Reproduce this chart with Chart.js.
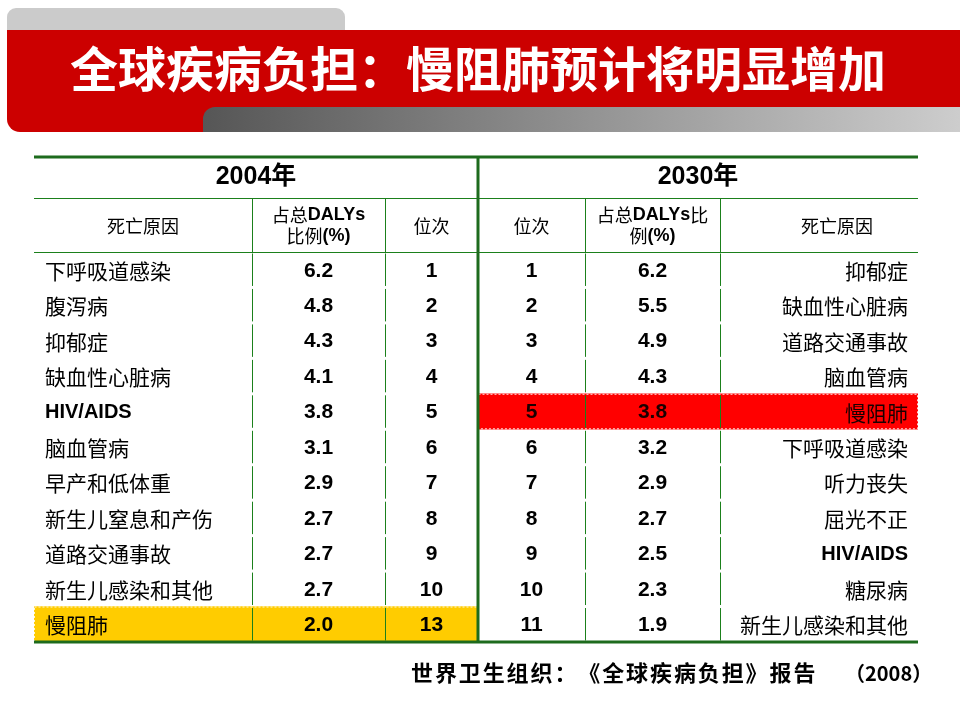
<!DOCTYPE html>
<html lang="zh">
<head>
<meta charset="utf-8">
<title>全球疾病负担：慢阻肺预计将明显增加</title>
<script src="https://cdn.jsdelivr.net/npm/chart.js@4.4.1/dist/chart.umd.min.js"></script>
<style>
  html, body { margin: 0; padding: 0; background: #fff; }
</style>
</head>
<body>
<canvas id="burden" width="960" height="720"></canvas>
<script>
/* ================= DATA ================= */

const titleText = "全球疾病负担：慢阻肺预计将明显增加";
const sourceText = "世界卫生组织：《全球疾病负担》报告";
const sourceYear = "（2008）";
const years = ["2004年", "2030年"];

const causes2004 = ["下呼吸道感染", "腹泻病", "抑郁症", "缺血性心脏病", "HIV/AIDS", "脑血管病",
  "早产和低体重", "新生儿窒息和产伤", "道路交通事故", "新生儿感染和其他", "慢阻肺"];
const share2004 = [6.2, 4.8, 4.3, 4.1, 3.8, 3.1, 2.9, 2.7, 2.7, 2.7, 2.0];
const rank2004 = [1, 2, 3, 4, 5, 6, 7, 8, 9, 10, 13];

const rank2030 = [1, 2, 3, 4, 5, 6, 7, 8, 9, 10, 11];
const share2030 = [6.2, 5.5, 4.9, 4.3, 3.8, 3.2, 2.9, 2.7, 2.5, 2.3, 1.9];
const causes2030 = ["抑郁症", "缺血性心脏病", "道路交通事故", "脑血管病", "慢阻肺", "下呼吸道感染",
  "听力丧失", "屈光不正", "HIV/AIDS", "糖尿病", "新生儿感染和其他"];

const focusCause = "慢阻肺";

/* ================= LAYOUT ================= */

// column edges in table units (table is 884 wide)
const colEdges = [0, 218, 351, 444, 551, 686, 884];
const headRows = [41, 54];

const GREEN_DARK = "#1d6b1d";
const GREEN = "#1b801b";
const CJK = '"Noto Sans CJK SC", "Noto Sans CJK JP", sans-serif';
const LATIN = '"Liberation Sans", Arial, ' + CJK;

function isLatin(s) {
  return /^[\x00-\x7f]+$/.test(s);
}

// draw mixed runs of text centred on cx
function drawRuns(ctx, runs, cx, cy) {
  let total = 0;
  runs.forEach(r => { ctx.font = r[1]; total += ctx.measureText(r[0]).width; });
  let x = cx - total / 2;
  ctx.textAlign = "left";
  runs.forEach(r => {
    ctx.font = r[1];
    ctx.fillText(r[0], x, cy);
    x += ctx.measureText(r[0]).width;
  });
}

/* ================= TABLE PLUGIN ================= */

const tablePlugin = {
  id: "tablePlugin",
  beforeDraw(chart) {
    const ctx = chart.ctx;
    ctx.save();
    // grey tab
    ctx.fillStyle = "#cbcbcb";
    ctx.beginPath();
    ctx.roundRect(7, 8, 338, 30, [9, 9, 0, 0]);
    ctx.fill();
    // red banner
    ctx.fillStyle = "#cc0000";
    ctx.beginPath();
    ctx.roundRect(7, 30, 965, 102, [0, 0, 0, 13]);
    ctx.fill();
    // grey gradient strip
    const g = ctx.createLinearGradient(203, 0, 960, 0);
    g.addColorStop(0, "#565656");
    g.addColorStop(1, "#cdcdcd");
    ctx.fillStyle = g;
    ctx.beginPath();
    ctx.roundRect(203, 107, 770, 25, [12, 0, 0, 0]);
    ctx.fill();
    // title
    ctx.fillStyle = "#ffffff";
    ctx.font = "bold 48px " + CJK;
    ctx.textBaseline = "middle";
    ctx.textAlign = "left";
    ctx.fillText(titleText, 70, 69);
    ctx.restore();
  },
  afterDatasetsDraw(chart) {
    const { ctx, chartArea, scales: { x, y } } = chart;
    const colX = colEdges.map(v => x.getPixelForValue(v));
    const rowH = (chartArea.bottom - chartArea.top) / causes2004.length;
    const top = chartArea.top - headRows[0] - headRows[1];
    const mid = top + headRows[0];
    const bottom = chartArea.bottom;

    ctx.save();

    // dotted edge of highlighted rows
    ctx.setLineDash([2, 2]);
    ctx.lineWidth = 1;
    ctx.strokeStyle = "rgba(255,255,255,0.85)";
    chart.data.datasets.forEach((ds, di) => {
      chart.getDatasetMeta(di).data.forEach((el, i) => {
        if (!ds.data[i]) return;
        const l = Math.min(el.x, el.base), r = Math.max(el.x, el.base);
        ctx.strokeRect(l + 0.5, el.y - el.height / 2 + 0.5, r - l - 1, el.height - 1);
      });
    });
    ctx.setLineDash([]);

    // thin rules
    ctx.strokeStyle = GREEN;
    ctx.lineWidth = 1;
    ctx.beginPath();
    [mid, chartArea.top].forEach(yy => {
      ctx.moveTo(colX[0], Math.round(yy) + 0.5);
      ctx.lineTo(colX[6], Math.round(yy) + 0.5);
    });
    [1, 2, 4, 5].forEach(k => {
      const xx = Math.round(colX[k]) + 0.5;
      ctx.moveTo(xx, mid);
      ctx.lineTo(xx, chartArea.top);
      causes2004.forEach((c, i) => {
        const cy = y.getPixelForValue(i);
        ctx.moveTo(xx, cy - rowH / 2 + 1.5);
        ctx.lineTo(xx, cy + rowH / 2 - 1.5);
      });
    });
    ctx.stroke();

    // thick rules
    ctx.strokeStyle = GREEN_DARK;
    ctx.lineWidth = 3;
    ctx.beginPath();
    ctx.moveTo(colX[0], top);
    ctx.lineTo(colX[6], top);
    ctx.moveTo(colX[0], bottom);
    ctx.lineTo(colX[6], bottom);
    ctx.moveTo(colX[3], top);
    ctx.lineTo(colX[3], bottom);
    ctx.stroke();

    // header text
    ctx.fillStyle = "#000";
    ctx.textBaseline = "middle";
    ctx.textAlign = "center";
    ctx.font = "bold 25px " + LATIN;
    ctx.fillText(years[0], (colX[0] + colX[3]) / 2, top + headRows[0] / 2);
    ctx.fillText(years[1], (colX[3] + colX[6]) / 2, top + headRows[0] / 2);

    const hc = mid + headRows[1] / 2 + 1;
    const reg = "18px " + CJK;
    const bld = "bold 18px " + LATIN;
    ctx.font = reg;
    ctx.fillText("死亡原因", (colX[0] + colX[1]) / 2, hc);
    ctx.fillText("位次", (colX[2] + colX[3]) / 2, hc);
    ctx.fillText("位次", (colX[3] + colX[4]) / 2, hc);
    ctx.fillText("死亡原因", colX[5] + 117, hc);
    drawRuns(ctx, [["占总", reg], ["DALYs", bld]], (colX[1] + colX[2]) / 2, hc - 11);
    drawRuns(ctx, [["比例", reg], ["(%)", bld]], (colX[1] + colX[2]) / 2, hc + 10);
    drawRuns(ctx, [["占总", reg], ["DALYs", bld], ["比", reg]], (colX[4] + colX[5]) / 2, hc - 11);
    drawRuns(ctx, [["例", reg], ["(%)", bld]], (colX[4] + colX[5]) / 2, hc + 10);

    // body text
    const numFont = "bold 21px " + LATIN;
    const causeFont = s => isLatin(s) ? "bold 20px " + LATIN : "21px " + CJK;
    causes2004.forEach((c, i) => {
      const cy = y.getPixelForValue(i) + 1;
      ctx.fillStyle = causes2030[i] === focusCause ? "#1a0000" : "#000";
      ctx.font = numFont;
      ctx.textAlign = "center";
      ctx.fillText(String(rank2030[i]), (colX[3] + colX[4]) / 2, cy);
      ctx.fillText(share2030[i].toFixed(1), (colX[4] + colX[5]) / 2, cy);
      ctx.font = causeFont(causes2030[i]);
      ctx.textAlign = "right";
      ctx.fillText(causes2030[i], colX[6] - 10, cy);

      ctx.fillStyle = "#000";
      ctx.font = numFont;
      ctx.textAlign = "center";
      ctx.fillText(share2004[i].toFixed(1), (colX[1] + colX[2]) / 2, cy);
      ctx.fillText(String(rank2004[i]), (colX[2] + colX[3]) / 2, cy);
      ctx.font = causeFont(c);
      ctx.textAlign = "left";
      ctx.fillText(c, colX[0] + 11, cy);
    });

    // source line, one full-width cell per character
    ctx.fillStyle = "#000";
    ctx.font = "bold 22px " + CJK;
    ctx.textAlign = "left";
    Array.from(sourceText).forEach((ch, i) => {
      ctx.fillText(ch, 411 + i * 23.9, bottom + 31);
    });
    ctx.font = "bold 20px " + CJK;
    ctx.fillText(sourceYear, 845, bottom + 31);

    ctx.restore();
  }
};

/* ================= CHART ================= */

const rowFill = (causes, from, to) =>
  causes.map(c => (c === focusCause ? [colEdges[from], colEdges[to]] : null));

new Chart(document.getElementById("burden"), {
  type: "bar",
  data: {
    labels: causes2004,
    datasets: [
      {
        data: rowFill(causes2004, 0, 3),
        backgroundColor: "#ffcc00"
      },
      {
        data: rowFill(causes2030, 3, 6),
        backgroundColor: "#ff0000"
      }
    ]
  },
  options: {
    indexAxis: "y",
    responsive: false,
    animation: false,
    layout: { padding: { left: 34, right: 42, top: 252, bottom: 78 } },
    datasets: {
      bar: {
        barPercentage: 1,
        categoryPercentage: 1,
        grouped: false,
        borderWidth: 0
      }
    },
    scales: {
      x: { type: "linear", min: 0, max: colEdges[6], display: false },
      y: { type: "category", offset: true, display: false }
    },
    plugins: {
      legend: { display: false },
      tooltip: { enabled: false }
    }
  },
  plugins: [tablePlugin]
});
</script>
</body>
</html>
